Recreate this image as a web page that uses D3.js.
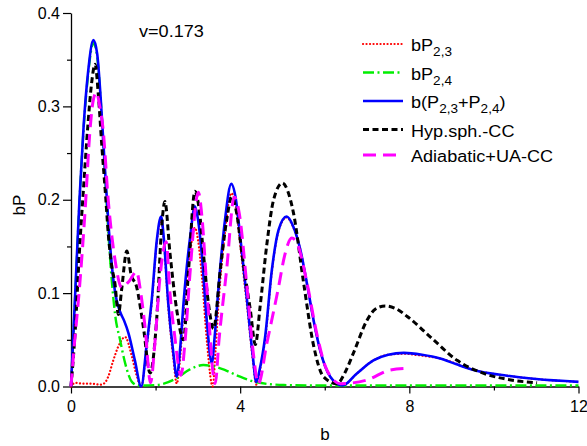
<!DOCTYPE html>
<html>
<head>
<meta charset="utf-8">
<script src="https://cdn.jsdelivr.net/npm/d3@7/dist/d3.min.js"></script>
<style>
body { margin: 0; background: #fff; }
svg text { font-family: "Liberation Sans", Arial, sans-serif; fill: #000; }
</style>
</head>
<body>
<div id="chart"></div>
<script>
// [b, bP] pairs
var p23 = [[0,0],[0.1,0.004],[0.3,0.003],[0.5,0.003],[0.7,0.002],[0.8,0.004],[0.88,0.0105],[1.0,0.028],[1.12,0.043],[1.28,0.053],[1.44,0.032],[1.55,0.012],[1.66,0.0],[1.79,0.042],[1.91,0.09],[2.03,0.155],[2.13,0.179],[2.19,0.158],[2.30,0.085],[2.42,0.03],[2.50,0.003],[2.58,0.03],[2.66,0.08],[2.82,0.145],[2.93,0.17],[3.0,0.158],[3.09,0.12],[3.21,0.05],[3.35,0.0],[3.42,0.04],[3.49,0.09],[3.64,0.165],[3.79,0.207],[3.9,0.192],[4.0,0.152],[4.17,0.083],[4.30,0.028],[4.38,0.002],[4.47,0.018],[4.59,0.05],[4.75,0.123],[4.91,0.167],[5.10,0.181],[5.25,0.171],[5.42,0.147],[5.58,0.11],[5.74,0.07],[5.89,0.039],[6.13,0.0105],[6.42,0.001],[6.76,0.014],[7.15,0.028],[7.5,0.034],[7.87,0.035],[8.3,0.033],[8.73,0.030],[9.52,0.0177],[10.31,0.0116],[11,0.008],[12,0.005]];

var p24 = [[0,0],[0.1,0.097],[0.2,0.197],[0.3,0.277],[0.4,0.332],[0.53,0.368],[0.62,0.353],[0.7,0.308],[0.8,0.231],[0.9,0.153],[0.99,0.1],[1.04,0.078],[1.16,0.05],[1.28,0.025],[1.44,0.005],[1.6,0.001],[2.03,0.0016],[2.5,0.009],[2.8,0.018],[3.13,0.023],[3.53,0.0195],[4.0,0.0105],[4.39,0.0045],[5.03,0.0016],[6,0.001],[12,0.001]];

var pSum = [[0,0],[0.1,0.1],[0.2,0.2],[0.3,0.28],[0.4,0.335],[0.53,0.371],[0.62,0.356],[0.7,0.31],[0.8,0.235],[0.9,0.165],[1.0,0.115],[1.08,0.092],[1.16,0.08],[1.26,0.07],[1.36,0.057],[1.51,0.028],[1.66,0.0],[1.79,0.045],[1.91,0.093],[2.03,0.157],[2.13,0.182],[2.19,0.161],[2.30,0.089],[2.42,0.036],[2.50,0.0105],[2.58,0.04],[2.66,0.089],[2.82,0.161],[2.93,0.193],[3.0,0.18],[3.09,0.143],[3.21,0.071],[3.33,0.025],[3.40,0.055],[3.49,0.107],[3.64,0.178],[3.79,0.217],[3.9,0.2],[4.0,0.161],[4.17,0.089],[4.30,0.032],[4.38,0.005],[4.47,0.02],[4.59,0.053],[4.75,0.125],[4.91,0.168],[5.10,0.182],[5.25,0.172],[5.42,0.147],[5.58,0.11],[5.74,0.07],[5.89,0.039],[6.13,0.0105],[6.42,0.001],[6.76,0.014],[7.15,0.028],[7.5,0.034],[7.87,0.036],[8.3,0.034],[8.73,0.030],[9.1,0.024],[9.52,0.0177],[10.31,0.0116],[11,0.008],[12,0.005]];

var hypCC = [[0,0],[0.1,0.06],[0.2,0.145],[0.3,0.215],[0.4,0.28],[0.48,0.322],[0.57,0.345],[0.65,0.31],[0.73,0.257],[0.82,0.203],[0.88,0.164],[0.96,0.13],[1.04,0.11],[1.12,0.077],[1.2,0.105],[1.32,0.145],[1.42,0.12],[1.55,0.107],[1.71,0.064],[1.87,0.0145],[2.03,0.075],[2.15,0.175],[2.22,0.198],[2.34,0.143],[2.50,0.082],[2.66,0.05],[2.78,0.125],[2.93,0.209],[3.03,0.19],[3.13,0.143],[3.25,0.089],[3.37,0.062],[3.53,0.125],[3.68,0.178],[3.80,0.203],[3.92,0.185],[4.04,0.143],[4.24,0.082],[4.36,0.045],[4.47,0.085],[4.63,0.152],[4.79,0.2],[5.0,0.218],[5.12,0.21],[5.26,0.186],[5.5,0.111],[5.74,0.043],[5.97,0.0105],[6.29,0.003],[6.48,0.015],[6.68,0.036],[7.0,0.071],[7.2,0.083],[7.43,0.0863],[7.7,0.083],[7.95,0.075],[8.5,0.053],[9.13,0.028],[9.76,0.014],[10.4,0.007],[11.02,0.004]];

var adiaCC = [[0,0],[0.055,0.032],[0.21,0.111],[0.33,0.186],[0.45,0.275],[0.52,0.305],[0.6,0.315],[0.68,0.3],[0.76,0.275],[0.88,0.2],[1.04,0.136],[1.2,0.106],[1.38,0.113],[1.55,0.123],[1.65,0.1],[1.75,0.064],[1.88,0.004],[1.99,0.05],[2.1,0.115],[2.25,0.155],[2.34,0.1],[2.45,0.055],[2.6,0.012],[2.7,0.05],[2.82,0.125],[3.01,0.208],[3.1,0.18],[3.21,0.107],[3.41,0.003],[3.5,0.05],[3.68,0.125],[3.86,0.203],[3.98,0.185],[4.16,0.107],[4.3,0.04],[4.43,0.003],[4.63,0.046],[4.91,0.107],[5.05,0.14],[5.22,0.159],[5.34,0.154],[5.58,0.111],[5.81,0.057],[6.05,0.0177],[6.37,0.003],[7.0,0.007],[7.55,0.0177],[8.0,0.0195]];

var xMajorTicks = [0, 4, 8, 12];
var xMinorTicks = [2, 6, 10];
var yMajorTicks = [0, 0.1, 0.2, 0.3, 0.4];
var yMinorTicks = [0.05, 0.15, 0.25, 0.35];

var series = [
    { data: p23,    color: '#ff0000', width: 2.2, dash: '0.1,3.4', cap: 'round', label: [['bP'], ['2,3', 1]] },
    { data: p24,    color: '#00ee00', width: 2.4, dash: '11,3.5,2,3.5', cap: 'butt', label: [['bP'], ['2,4', 1]] },
    { data: pSum,   color: '#0000ff', width: 2.6, dash: null, cap: 'butt', label: [['b(P'], ['2,3', 1], ['+P'], ['2,4', 1], [')']] },
    { data: hypCC,  color: '#000000', width: 3, dash: '6,3.5', cap: 'butt', label: [['Hyp.sph.-CC']] },
    { data: adiaCC, color: '#ff00ff', width: 3, dash: '13,7', cap: 'butt', label: [['Adiabatic+UA-CC']] }
];

var width = 587, height = 446;
var x = d3.scaleLinear().domain([0, 12]).range([71, 578.5]);
var y = d3.scaleLinear().domain([0, 0.4]).range([386.5, 13]);

var svg = d3.select('#chart').append('svg')
    .attr('width', width)
    .attr('height', height);

// minor ticks first, then major axes on top
svg.append('g').attr('transform', 'translate(0,' + y(0) + ')')
    .call(d3.axisBottom(x).tickValues(xMinorTicks).tickSize(4).tickFormat(''))
    .call(function(g) { g.select('.domain').remove(); });
svg.append('g').attr('transform', 'translate(' + x(0) + ',0)')
    .call(d3.axisLeft(y).tickValues(yMinorTicks).tickSize(4).tickFormat(''))
    .call(function(g) { g.select('.domain').remove(); });

var xAxis = svg.append('g').attr('transform', 'translate(0,' + y(0) + ')')
    .call(d3.axisBottom(x).tickValues(xMajorTicks).tickSize(7).tickSizeOuter(0).tickPadding(7).tickFormat(d3.format('d')));
var yAxis = svg.append('g').attr('transform', 'translate(' + x(0) + ',0)')
    .call(d3.axisLeft(y).tickValues(yMajorTicks).tickSize(8).tickSizeOuter(0).tickPadding(3).tickFormat(d3.format('.1f')));

svg.selectAll('.tick line').attr('stroke', '#000').attr('stroke-width', 1.2);
svg.selectAll('.domain').attr('stroke', '#000').attr('stroke-width', 1.3);
svg.selectAll('.tick text').attr('font-size', 16).attr('font-family', '"Liberation Sans", Arial, sans-serif');

// axis titles
svg.append('text')
    .attr('transform', 'translate(25,205) rotate(-90)')
    .attr('text-anchor', 'middle')
    .attr('font-size', 17)
    .text('bP');
svg.append('text')
    .attr('x', 325).attr('y', 440)
    .attr('text-anchor', 'middle')
    .attr('font-size', 17)
    .text('b');

// curves
var line = d3.line()
    .x(function(d) { return x(d[0]); })
    .y(function(d) { return y(d[1]); })
    .curve(d3.curveMonotoneX);

series.forEach(function(s) {
    svg.append('path')
        .attr('d', line(s.data))
        .attr('fill', 'none')
        .attr('stroke', s.color)
        .attr('stroke-width', s.width)
        .attr('stroke-dasharray', s.dash)
        .attr('stroke-linecap', s.cap);
});

// annotation
svg.append('g').attr('transform', 'translate(139,37) scale(1.13,1)')
    .append('text').attr('font-size', 16).text('v=0.173');

// legend
var legendY = [44, 72.5, 101, 129.5, 155];
series.forEach(function(s, i) {
    var ly = legendY[i];
    svg.append('line')
        .attr('x1', 363).attr('x2', 403)
        .attr('y1', ly).attr('y2', ly)
        .attr('stroke', s.color)
        .attr('stroke-width', s.width)
        .attr('stroke-dasharray', s.dash)
        .attr('stroke-linecap', s.cap);
    var t = svg.append('g')
        .attr('transform', 'translate(411,' + (ly + 7) + ') scale(1.13,1)')
        .append('text').attr('font-size', 16);
    var shifted = 0;
    s.label.forEach(function(part) {
        var sub = part[1] ? 1 : 0;
        var dy = sub ? 5 - shifted : -shifted;
        shifted = sub ? 5 : 0;
        t.append('tspan')
            .attr('dy', dy)
            .attr('font-size', sub ? 12 : 16)
            .text(part[0]);
    });
});
</script>
</body>
</html>
